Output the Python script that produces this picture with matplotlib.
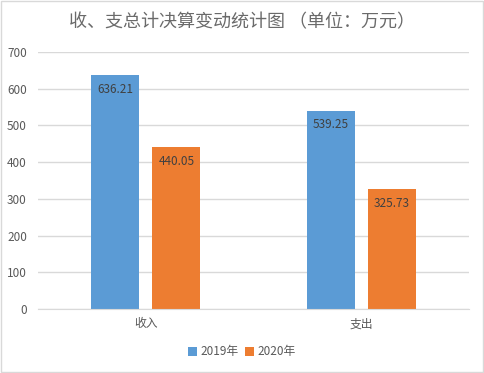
import matplotlib
matplotlib.use("Agg")
import matplotlib.pyplot as plt
import numpy as np

plt.rcParams['font.family'] = ['Noto Sans CJK SC', 'DejaVu Sans']

categories = ['收入', '支出']
series_names = ['2019年', '2020年']
values_2019 = [636.21, 539.25]
values_2020 = [440.05, 325.73]
colors = ['#5b9bd5', '#ed7d31']
yticks = [0, 100, 200, 300, 400, 500, 600, 700]

fig = plt.figure(figsize=(4.84, 3.73), dpi=100)
ax = fig.add_axes([38 / 484, 1 - 309 / 373, 431 / 484, 257 / 373])

x = np.arange(len(categories))
w = 0.223
off = 0.142
b1 = ax.bar(x - off, values_2019, w, color=colors[0], label=series_names[0], zorder=2)
b2 = ax.bar(x + off, values_2020, w, color=colors[1], label=series_names[1], zorder=2)

# value labels just inside the top of each bar
for bars in (b1, b2):
    for bar in bars:
        h = bar.get_height()
        ax.text(bar.get_x() + bar.get_width() / 2, h - 38, f'{h:.2f}',
                ha='center', va='center', fontsize=8.5, color='#404040', zorder=3)

ax.set_xlim(-0.5, 1.5)
ax.set_ylim(0, 700)
ax.set_yticks(yticks)
ax.set_xticks(x)
ax.set_xticklabels(categories)
ax.yaxis.grid(True, color='#d9d9d9', linewidth=1, zorder=0)
for s in ['top', 'right', 'left']:
    ax.spines[s].set_visible(False)
ax.spines['bottom'].set_color('#d9d9d9')
ax.tick_params(axis='both', length=0, labelsize=8.5, colors='#595959', pad=6)
ax.tick_params(axis='y', pad=8)

fig.text(0.5, 1 - 22 / 373, '收、支总计决算变动统计图 （单位：万元）', ha='center', va='center',
         fontsize=13, color='#6a6a6a')

fig.legend(loc='center', bbox_to_anchor=(0.5, 1 - 352 / 373), ncol=2, frameon=False,
           fontsize=8.5, handlelength=0.7, handleheight=0.7, handletextpad=0.3,
           columnspacing=0.6, labelcolor='#595959')

fig.patches.append(plt.Rectangle((0.002, 0.002), 0.996, 0.996, transform=fig.transFigure,
                                 fill=False, edgecolor='#d9d9d9', linewidth=1))

fig.savefig('out.png', dpi=100)
